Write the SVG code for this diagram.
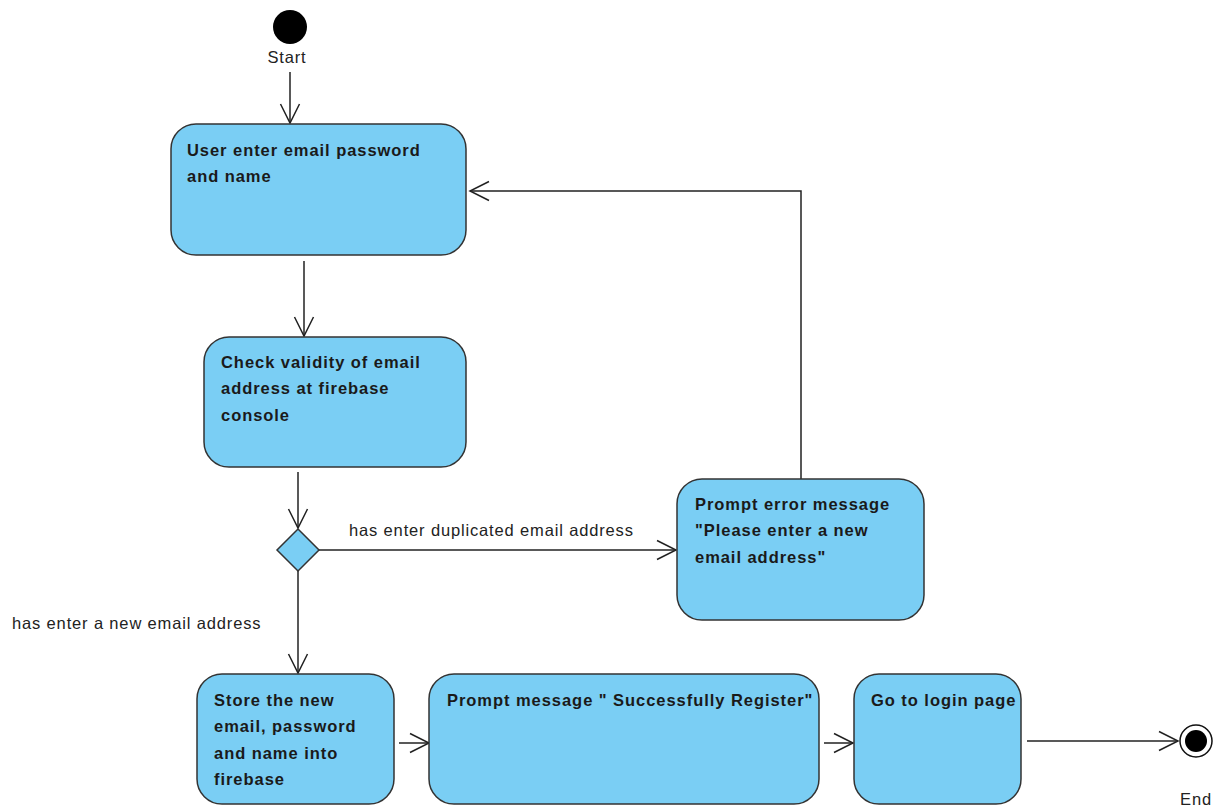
<svg xmlns="http://www.w3.org/2000/svg" width="1229" height="807" viewBox="0 0 1229 807">
<style>
.node{fill:#7acef4;stroke:#333;stroke-width:1.5}
.nt{font-family:"Liberation Sans",Arial,sans-serif;font-size:16.5px;font-weight:bold;fill:#1a1a1a;letter-spacing:0.95px}
.lb{font-family:"Liberation Sans",Arial,sans-serif;font-size:16.5px;fill:#222;letter-spacing:0.85px}
.conn{fill:none;stroke:#222;stroke-width:1.5}
</style>
<defs>
<marker id="arr" markerUnits="userSpaceOnUse" markerWidth="24" markerHeight="24" viewBox="-22 -12 24 24" refX="0" refY="0" orient="auto">
<path d="M-19,-9.5 L0,0 L-19,9.5" fill="none" stroke="#222" stroke-width="1.5"/>
</marker>
</defs>
<rect width="1229" height="807" fill="#fff"/>
<g id="connectors">
<line class="conn" x1="290" y1="72" x2="290" y2="123" marker-end="url(#arr)"/>
<line class="conn" x1="304" y1="261" x2="304" y2="336" marker-end="url(#arr)"/>
<line class="conn" x1="298" y1="472" x2="298" y2="528" marker-end="url(#arr)"/>
<line class="conn" x1="319" y1="550" x2="676" y2="550" marker-end="url(#arr)"/>
<polyline class="conn" points="801,479 801,191 470,191" marker-end="url(#arr)"/>
<line class="conn" x1="298" y1="571" x2="298" y2="673" marker-end="url(#arr)"/>
<line class="conn" x1="399" y1="743" x2="429" y2="743" marker-end="url(#arr)"/>
<line class="conn" x1="824" y1="743" x2="853" y2="743" marker-end="url(#arr)"/>
<line class="conn" x1="1027" y1="741" x2="1178" y2="741" marker-end="url(#arr)"/>
<text class="lb" x="349" y="536">has enter duplicated email address</text>
<text class="lb" x="12" y="629">has enter a new email address</text>
</g>
<g id="start">
<circle cx="290" cy="27" r="17" fill="#000"/>
<text class="lb" x="287" y="63" text-anchor="middle">Start</text>
</g>
<g id="n1">
<rect class="node" x="171" y="124" width="295" height="131" rx="25"/>
<text class="nt" x="187" y="156">User enter email password</text>
<text class="nt" x="187" y="182">and name</text>
</g>
<g id="n2">
<rect class="node" x="204" y="337" width="262" height="130" rx="25"/>
<text class="nt" x="221" y="368">Check validity of email</text>
<text class="nt" x="221" y="394">address at firebase</text>
<text class="nt" x="221" y="421">console</text>
</g>
<g id="decision">
<polygon class="node" points="298,529 319,550 298,571 277,550"/>
</g>
<g id="n3">
<rect class="node" x="677" y="479" width="247" height="141" rx="25"/>
<text class="nt" x="695" y="510">Prompt error message</text>
<text class="nt" x="695" y="536">"Please enter a new</text>
<text class="nt" x="695" y="563">email address"</text>
</g>
<g id="n4">
<rect class="node" x="197" y="674" width="197" height="130" rx="25"/>
<text class="nt" x="214" y="706">Store the new</text>
<text class="nt" x="214" y="732">email, password</text>
<text class="nt" x="214" y="759">and name into</text>
<text class="nt" x="214" y="785">firebase</text>
</g>
<g id="n5">
<rect class="node" x="429" y="674" width="390" height="130" rx="25"/>
<text class="nt" x="447" y="706">Prompt message " Successfully Register"</text>
</g>
<g id="n6">
<rect class="node" x="854" y="674" width="167" height="130" rx="25"/>
<text class="nt" x="871" y="706">Go to login page</text>
</g>
<g id="end">
<circle cx="1196" cy="741" r="16" fill="#fff" stroke="#111" stroke-width="1.5"/>
<circle cx="1196" cy="741" r="11" fill="#000"/>
<text class="lb" x="1196" y="805" text-anchor="middle">End</text>
</g>
</svg>
